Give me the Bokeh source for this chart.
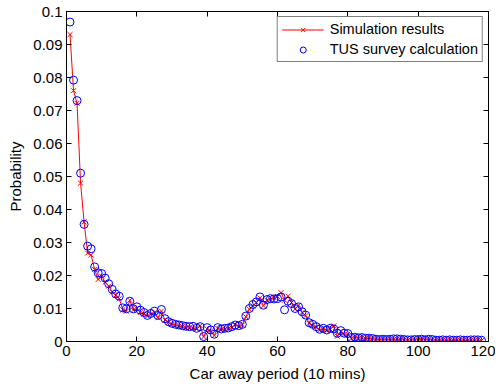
from bokeh.plotting import figure
from bokeh.embed import file_html
from bokeh.resources import INLINE
from bokeh.models import (FixedTicker, LinearAxis, CustomJSTickFormatter, Legend, LegendItem, Range1d)

periods = list(range(1, 119))

tus_survey = [
    0.0968, 0.0792, 0.0730, 0.0510, 0.0355, 0.0289, 0.0281, 0.0226, 0.0208, 0.0206,
    0.0192, 0.0175, 0.0158, 0.0144, 0.0137, 0.0102, 0.0099, 0.0122, 0.0099, 0.0105,
    0.0095, 0.0088, 0.0079, 0.0085, 0.0092, 0.0079, 0.0097, 0.0069, 0.0060, 0.0055,
    0.0052, 0.0050, 0.0048, 0.0046, 0.0045, 0.0046, 0.0040, 0.0045, 0.0015, 0.0042,
    0.0035, 0.0022, 0.0042, 0.0038, 0.0040, 0.0041, 0.0045, 0.0050, 0.0048, 0.0052,
    0.0077, 0.0100, 0.0112, 0.0120, 0.0135, 0.0110, 0.0127, 0.0130, 0.0129, 0.0130,
    0.0135, 0.0096, 0.0122, 0.0115, 0.0100, 0.0105, 0.0090, 0.0080, 0.0057, 0.0052,
    0.0045, 0.0037, 0.0040, 0.0035, 0.0040, 0.0038, 0.0025, 0.0033, 0.0025, 0.0024,
    0.0012, 0.0013, 0.0011, 0.0012, 0.0010, 0.0010, 0.0009, 0.0007, 0.0006, 0.0007,
    0.0006, 0.0007, 0.0008, 0.0008, 0.0007, 0.0006, 0.0005, 0.0005, 0.0006, 0.0006,
    0.0007, 0.0005, 0.0007, 0.0006, 0.0004, 0.0004, 0.0005, 0.0004, 0.0005, 0.0004,
    0.0004, 0.0005, 0.0004, 0.0004, 0.0005, 0.0005, 0.0005, 0.0004,
]

simulation = [
    0.0930, 0.0760, 0.0722, 0.0480, 0.0362, 0.0268, 0.0262, 0.0218, 0.0188, 0.0198,
    0.0180, 0.0168, 0.0150, 0.0140, 0.0130, 0.0096, 0.0092, 0.0125, 0.0095, 0.0100,
    0.0088, 0.0083, 0.0077, 0.0082, 0.0088, 0.0072, 0.0092, 0.0065, 0.0058, 0.0052,
    0.0050, 0.0046, 0.0045, 0.0041, 0.0042, 0.0040, 0.0038, 0.0048, 0.0014, 0.0038,
    0.0032, 0.0018, 0.0040, 0.0036, 0.0037, 0.0039, 0.0042, 0.0052, 0.0045, 0.0050,
    0.0075, 0.0098, 0.0108, 0.0118, 0.0132, 0.0108, 0.0125, 0.0128, 0.0133, 0.0136,
    0.0148, 0.0125, 0.0137, 0.0118, 0.0098, 0.0110, 0.0088, 0.0078, 0.0055, 0.0048,
    0.0044, 0.0035, 0.0038, 0.0033, 0.0037, 0.0047, 0.0016, 0.0030, 0.0022, 0.0022,
    0.0010, 0.0012, 0.0010, 0.0011, 0.0009, 0.0009, 0.0008, 0.0006, 0.0005, 0.0006,
    0.0005, 0.0006, 0.0007, 0.0007, 0.0006, 0.0005, 0.0004, 0.0004, 0.0005, 0.0005,
    0.0006, 0.0004, 0.0006, 0.0005, 0.0003, 0.0003, 0.0004, 0.0003, 0.0004, 0.0003,
    0.0003, 0.0004, 0.0003, 0.0003, 0.0004, 0.0004, 0.0004, 0.0003,
]

x_ticks = [0, 20, 40, 60, 80, 100, 120]
y_ticks = [0, 0.01, 0.02, 0.03, 0.04, 0.05, 0.06, 0.07, 0.08, 0.09, 0.1]

FONT = "Liberation Sans"
FS = "15px"

p = figure(width=495, height=386, output_backend="svg", toolbar_location=None,
           x_range=Range1d(0, 120), y_range=Range1d(0, 0.1),
           min_border_left=66, min_border_top=11, min_border_right=7, min_border_bottom=45,
           outline_line_color="black", outline_line_width=1)
p.grid.visible = False
p.background_fill_color = "white"
p.border_fill_color = "white"

fmt = CustomJSTickFormatter(code="""
let s = tick.toFixed(2);
s = s.replace(/0+$/, '').replace(/\\.$/, '');
return s;
""")
blank = CustomJSTickFormatter(code="return '';")

def style_axis(ax):
    ax.axis_line_color = "black"
    ax.major_tick_in = 5
    ax.major_tick_out = 0
    ax.minor_tick_line_color = None
    ax.major_tick_line_color = "black"
    ax.major_label_text_font = FONT
    ax.major_label_text_font_size = FS
    ax.major_label_text_color = "black"
    ax.axis_label_text_font = FONT
    ax.axis_label_text_font_size = FS
    ax.axis_label_text_font_style = "normal"
    ax.axis_label_text_color = "black"

p.xaxis.ticker = FixedTicker(ticks=x_ticks)
p.yaxis.ticker = FixedTicker(ticks=y_ticks)
p.yaxis.formatter = fmt
p.xaxis.axis_label = "Car away period (10 mins)"
p.yaxis.axis_label = "Probability"
style_axis(p.xaxis[0])
style_axis(p.yaxis[0])
p.xaxis.major_label_standoff = 4
p.yaxis.major_label_standoff = 4
p.xaxis.axis_label_standoff = 6
p.yaxis.axis_label_standoff = 6

top = LinearAxis(ticker=FixedTicker(ticks=x_ticks), formatter=blank,
                 major_label_standoff=0)
style_axis(top)
p.add_layout(top, "above")
right = LinearAxis(ticker=FixedTicker(ticks=y_ticks), formatter=blank,
                   major_label_standoff=0)
style_axis(right)
p.add_layout(right, "right")

ln = p.line(periods, simulation, line_color="red", line_width=1)
xs = p.scatter(periods, simulation, marker="x", size=7, line_color="red",
               fill_color="red", line_width=1)
cs = p.scatter(periods, tus_survey, marker="circle", size=8, line_color="blue",
               fill_color=None, line_width=1)

legend = Legend(items=[LegendItem(label="Simulation results", renderers=[ln, xs]),
                       LegendItem(label="TUS survey calculation", renderers=[cs])],
                location="top_right")
legend.label_text_font = FONT
legend.label_text_font_size = "14.5px"
legend.label_text_color = "black"
legend.border_line_color = "black"
legend.border_line_width = 1
legend.spacing = 4
legend.padding = 4
legend.margin = 5
legend.glyph_width = 42
legend.label_standoff = 6
legend.label_height = 15
legend.glyph_height = 15
p.add_layout(legend, "center")

open("out.html", "w").write(file_html(p, INLINE))
